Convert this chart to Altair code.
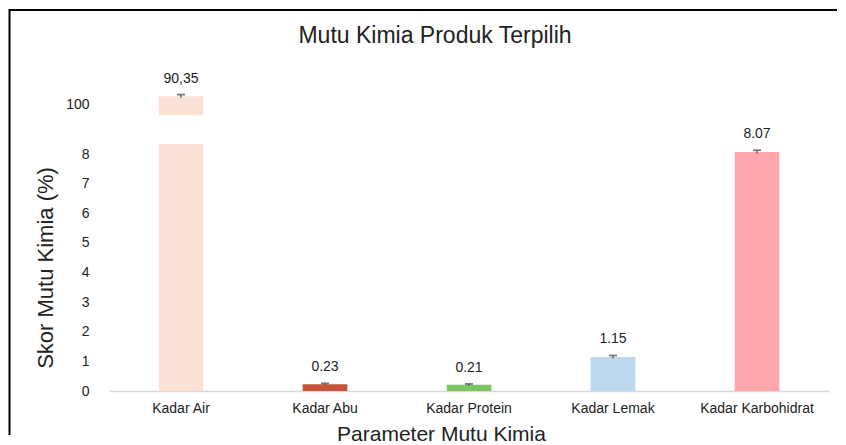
import altair as alt
import pandas as pd

categories = ["Kadar Air", "Kadar Abu", "Kadar Protein", "Kadar Lemak", "Kadar Karbohidrat"]
values = [90.35, 0.23, 0.21, 1.15, 8.07]
errors = [0.2, 0.03, 0.03, 0.05, 0.06]
value_labels = ["90,35", "0.23", "0.21", "1.15", "8.07"]
colors = ["#FAE3D6", "#C7533B", "#7DC463", "#BDD7EE", "#FFA6AC"]
lower_ticks = [0, 1, 2, 3, 4, 5, 6, 7, 8]
lower_domain = [0, 8.34]
upper_domain = [88, 90.5]
upper_tick_value = [89.375]
upper_tick_label = "100"
chart_title = "Mutu Kimia Produk Terpilih"

df = pd.DataFrame({"cat": categories, "value": values, "err": errors, "label": value_labels})
df["lo"] = df["value"] - df["err"]
df["hi"] = df["value"] + df["err"]

FONT = "Liberation Sans"
TXT = "#222222"
xscale = alt.Scale(domain=categories, paddingInner=0.69, paddingOuter=0.345)
color = alt.Color("cat:N", scale=alt.Scale(domain=categories, range=colors), legend=None)


def panel(ydomain, yaxis, xaxis, height, filt, extra=()):
    yscale = alt.Scale(domain=ydomain, nice=False, zero=False)
    x = alt.X("cat:N", scale=xscale, sort=categories, axis=xaxis)
    base = alt.Chart(df)
    bars = base.mark_bar(clip=True).encode(
        x=x, y=alt.Y("value:Q", scale=yscale, axis=yaxis), color=color
    )
    sub = base.transform_filter(filt)
    rule = sub.mark_rule(color="#555555", strokeWidth=1.2).encode(
        x=alt.X("cat:N", scale=xscale, sort=categories, axis=xaxis),
        y=alt.Y("lo:Q", scale=yscale, axis=yaxis), y2="hi:Q",
    )
    cap = sub.mark_tick(color="#444444", size=8, thickness=1.8).encode(
        x=alt.X("cat:N", scale=xscale, sort=categories, axis=xaxis),
        y=alt.Y("hi:Q", scale=yscale, axis=yaxis),
    )
    text = sub.mark_text(baseline="bottom", dy=-9, fontSize=14, font=FONT, color=TXT).encode(
        x=alt.X("cat:N", scale=xscale, sort=categories, axis=xaxis),
        y=alt.Y("hi:Q", scale=yscale, axis=yaxis),
        text="label:N",
    )
    return alt.layer(bars, rule, cap, text, *extra).properties(width=720, height=height)


frame_src = alt.Chart(pd.DataFrame({"k": [0]}))
frame_top = frame_src.mark_rule(color="black", strokeWidth=2).encode(
    x=alt.value(-100), x2=alt.value(728), y=alt.value(-85)
)
frame_left = frame_src.mark_rule(color="black", strokeWidth=2).encode(
    x=alt.value(-99.5), y=alt.value(-86), y2=alt.value(340)
)
title_text = frame_src.mark_text(fontSize=23, font=FONT, color=TXT, baseline="middle").encode(
    x=alt.value(326), y=alt.value(-59), text=alt.value(chart_title)
)

top = panel(
    upper_domain,
    alt.Axis(values=upper_tick_value, labelExpr=f"'{upper_tick_label}'", ticks=False, domain=False,
             grid=False, title=None, labelFontSize=14, labelFont=FONT, labelColor=TXT, labelPadding=20),
    None,
    20,
    f"datum.value > {upper_domain[0]}",
    extra=(frame_top, frame_left, title_text),
)

bottom = panel(
    lower_domain,
    alt.Axis(values=lower_ticks, ticks=False, domain=False, grid=False, labelOverlap=False,
             title="Skor Mutu Kimia (%)", titleFontSize=22, titleFont=FONT, titleFontWeight="normal",
             titleColor=TXT, titlePadding=22, labelFontSize=14, labelFont=FONT, labelColor=TXT,
             labelPadding=20, minExtent=30, maxExtent=30),
    alt.Axis(title="Parameter Mutu Kimia", titleFontSize=21, titleFont=FONT, titleFontWeight="normal",
             titleColor=TXT, titlePadding=8, titleX=332, labelFontSize=14, labelFont=FONT,
             labelColor=TXT, labelPadding=10, labelAngle=0, ticks=False, domainColor="#D9D9D9",
             domainWidth=1.5),
    247,
    f"datum.value <= {lower_domain[1]}",
)

chart = alt.VConcatChart(
    vconcat=[top, bottom],
    spacing=29,
    bounds="flush",
    padding={"left": 0, "top": 0, "right": 0, "bottom": 0},
).resolve_scale(y="independent", x="shared", color="shared").configure(
    background="white", view=alt.ViewConfig(stroke=None)
)

chart.save("out.html", embed_options={"renderer": "svg", "actions": False})
